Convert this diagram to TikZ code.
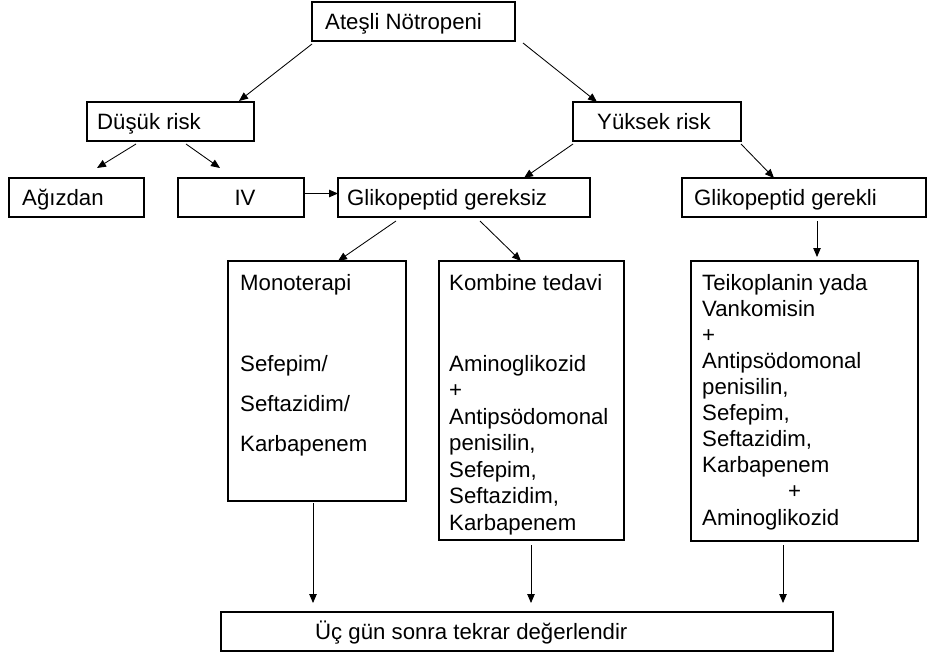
\documentclass[tikz,border=0pt]{standalone}
\usepackage{fontspec}
\setmainfont{Liberation Sans}
\usetikzlibrary{arrows.meta}
\begin{document}
\begin{tikzpicture}[x=1pt,y=-1pt,
  box/.style={draw, line width=1.1pt, inner sep=0pt, outer sep=0pt, anchor=north west},
  txt/.style={inner sep=0pt, anchor=base west, align=left},
  conn/.style={line width=0.85pt, -{Triangle[length=9pt,width=7.5pt]}},
  font={\fontsize{22.2}{26.5}\selectfont}]
\useasboundingbox (0,0) rectangle (928,653);
% boxes
\node[box, minimum width=203pt, minimum height=39pt] (ates) at (312,2) {};
\node[box, minimum width=167pt, minimum height=39pt] (dusuk) at (87,102) {};
\node[box, minimum width=168pt, minimum height=39pt] (yuksek) at (573,102) {};
\node[box, minimum width=135pt, minimum height=39pt] (agiz) at (9,178) {};
\node[box, minimum width=126pt, minimum height=39pt] (iv) at (178,178) {};
\node[box, minimum width=252pt, minimum height=39pt] (gereksiz) at (338,178) {};
\node[box, minimum width=244pt, minimum height=39pt] (gerekli) at (682,178) {};
\node[box, minimum width=178pt, minimum height=240pt] (mono) at (228,261) {};
\node[box, minimum width=185pt, minimum height=279pt] (komb) at (439,261) {};
\node[box, minimum width=227pt, minimum height=280pt] (teiko) at (691,261) {};
\node[box, minimum width=612pt, minimum height=39pt] (uc) at (221,612) {};
% texts (multi-line nodes are placed by the baseline of their last line)
\node[txt] (tates) at (325,29.5) {Ateşli Nötropeni};
\node[txt] (tdusuk) at (97,129.5) {Düşük risk};
\node[txt] (tyuksek) at (597,129.5) {Yüksek risk};
\node[txt] (tagiz) at (22,205.5) {Ağızdan};
\node[txt, anchor=base] (tiv) at (245,205.5) {IV};
\node[txt] (tgereksiz) at (347,205.5) {Glikopeptid gereksiz};
\node[txt] (tgerekli) at (694,205.5) {Glikopeptid gerekli};
\node[txt] (tuc) at (315,639.5) {Üç gün sonra tekrar değerlendir};
\node[txt, font={\fontsize{22.2}{40}\selectfont}] (tmono) at (240,451)
  {Monoterapi\\[41pt]Sefepim/\\Seftazidim/\\Karbapenem};
\node[txt, font={\fontsize{22.2}{26.5}\selectfont}] (tkomb) at (449,530)
  {Kombine tedavi\\[54.5pt]Aminoglikozid\\+\\Antipsödomonal\\penisilin,\\Sefepim,\\Seftazidim,\\Karbapenem};
\node[txt, font={\fontsize{22.2}{26.1}\selectfont}] (tteiko) at (702,525)
  {Teikoplanin yada\\Vankomisin\\+\\Antipsödomonal\\penisilin,\\Sefepim,\\Seftazidim,\\Karbapenem\\\hspace*{86pt}+\\Aminoglikozid};
% connectors
\draw[conn] ([yshift=-3pt]ates.south west) -- ([xshift=-15pt,yshift=1pt]dusuk.north east);
\draw[conn] ([xshift=8pt,yshift=-2pt]ates.south east) -- ([xshift=24pt]yuksek.north west);
\draw[conn] ([xshift=49pt,yshift=-3pt]dusuk.south west) -- ([xshift=88pt,yshift=10pt]agiz.north west);
\draw[conn] ([xshift=99pt,yshift=-3pt]dusuk.south west) -- ([xshift=42pt,yshift=10pt]iv.north west);
\draw[conn] ([yshift=4pt]iv.east) -- ([yshift=4pt]gereksiz.west);
\draw[conn] ([yshift=-3pt]yuksek.south west) -- ([xshift=-66pt]gereksiz.north east);
\draw[conn] ([yshift=-3pt]yuksek.south east) -- ([xshift=92pt]gerekli.north west);
\draw[conn] ([xshift=58pt,yshift=-4pt]gereksiz.south west) -- ([xshift=110pt]mono.north west);
\draw[conn] ([xshift=142pt,yshift=-4pt]gereksiz.south west) -- ([xshift=82pt]komb.north west);
\draw[conn] ([xshift=135pt,yshift=-4pt]gerekli.south west) -- ([xshift=126pt,yshift=4pt]teiko.north west);
\draw[conn] ([xshift=85pt,yshift=-2pt]mono.south west) -- ([xshift=92pt,yshift=9pt]uc.north west);
\draw[conn] ([xshift=92pt,yshift=-5pt]komb.south west) -- ([xshift=310pt,yshift=9pt]uc.north west);
\draw[conn] ([xshift=92pt,yshift=-4pt]teiko.south west) -- ([xshift=562pt,yshift=9pt]uc.north west);
\end{tikzpicture}
\end{document}
